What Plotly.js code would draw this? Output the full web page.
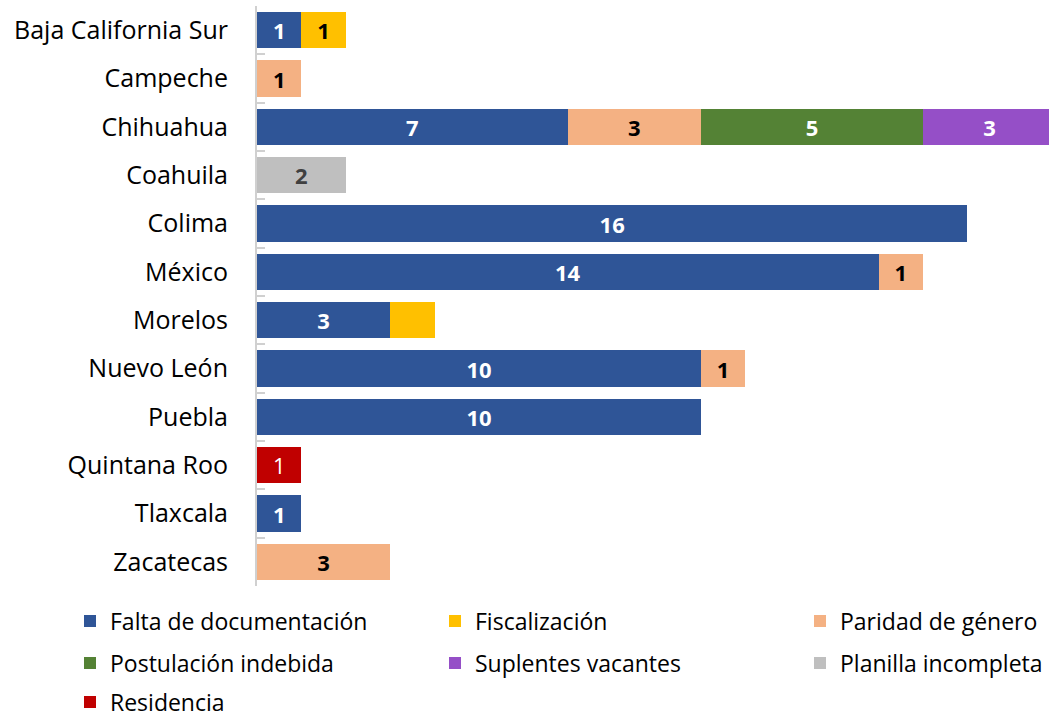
<!DOCTYPE html>
<html><head><meta charset="utf-8">
<script src="https://cdn.plot.ly/plotly-3.0.1.min.js"></script>
<style>body{margin:0;background:#fff}#chart{width:1049px;height:719px}</style>
</head><body><div id="chart"></div>
<script>
const categories = ["Baja California Sur","Campeche","Chihuahua","Coahuila","Colima","México","Morelos","Nuevo León","Puebla","Quintana Roo","Tlaxcala","Zacatecas"];
const seriesNames = ["Falta de documentación","Fiscalización","Paridad de género","Postulación indebida","Suplentes vacantes","Planilla incompleta","Residencia"];
const falta       = [1,null,7,null,16,14,3,10,10,null,1,null];
const fiscal      = [1,null,null,null,null,null,1,null,null,null,null,null];
const fiscalLabel = ["1","","","","","","","","","","",""];
const paridad     = [null,1,3,null,null,1,null,1,null,null,null,3];
const postulacion = [null,null,5,null,null,null,null,null,null,null,null,null];
const suplentes   = [null,null,3,null,null,null,null,null,null,null,null,null];
const planilla    = [null,null,null,2,null,null,null,null,null,null,null,null];
const residencia  = [null,null,null,null,null,null,null,null,null,1,null,null];

const colors = ["#2F5597","#FFC000","#F4B183","#548235","#954FC7","#BFBFBF","#C00000"];
const textColors = ["#FFFFFF","#000000","#000000","#FFFFFF","#FFFFFF","#404040","#FFFFFF"];
const weights = ["bold","bold","bold","bold","bold","bold","normal"];
const values = [falta,fiscal,paridad,postulacion,suplentes,planilla,residencia];
const legendIds = ["legend","legend2","legend3","legend4","legend5","legend6","legend7"];
// legend grid: column text start x, row center y (pixels)
const legendTextX = [110,475,840,110,475,840,110];
const legendRowY  = [621,621,621,663,663,663,702];
const FONT = "'Open Sans', Lato, sans-serif";

const traces = values.map((v,i)=>({
  type:"bar", orientation:"h", name:seriesNames[i], y:categories, x:v,
  marker:{color:colors[i], line:{width:0}},
  text: i===1 ? fiscalLabel : v.map(d=>d==null?"":String(d)),
  texttemplate:"%{text}", textposition:"inside", insidetextanchor:"middle",
  textangle:0, constraintext:"none",
  textfont:{family:FONT, size:22, color:textColors[i], weight:weights[i]},
  legend:legendIds[i], hoverinfo:"skip"
}));

const W = 1049, H = 719;
const layout = {
  width:W, height:H, paper_bgcolor:"#fff", plot_bgcolor:"#fff",
  margin:{l:257, r:0, t:6, b:133, pad:0},
  barmode:"stack", bargap:0.25,
  font:{family:FONT, color:"#000"},
  xaxis:{range:[0,17.84], visible:false, fixedrange:true},
  yaxis:{autorange:"reversed", type:"category", showline:true, linecolor:"#D0D0D0", linewidth:2,
    ticks:"inside", tickson:"boundaries", ticklen:8, tickcolor:"#D0D0D0", tickwidth:2,
    ticklabelstandoff:22, showgrid:false, zeroline:false,
    tickfont:{family:FONT, size:25, color:"#000"}},
  showlegend:true
};
legendIds.forEach((id,i)=>{
  layout[id] = {orientation:"h", xref:"container", yref:"container",
    x:(legendTextX[i]-40)/W, y:1-legendRowY[i]/H, xanchor:"left", yanchor:"middle",
    font:{family:FONT,size:23,color:"#000"}, bgcolor:"rgba(0,0,0,0)", itemwidth:30};
});
Plotly.newPlot("chart", traces, layout, {displayModeBar:false, staticPlot:true});
</script></body></html>
